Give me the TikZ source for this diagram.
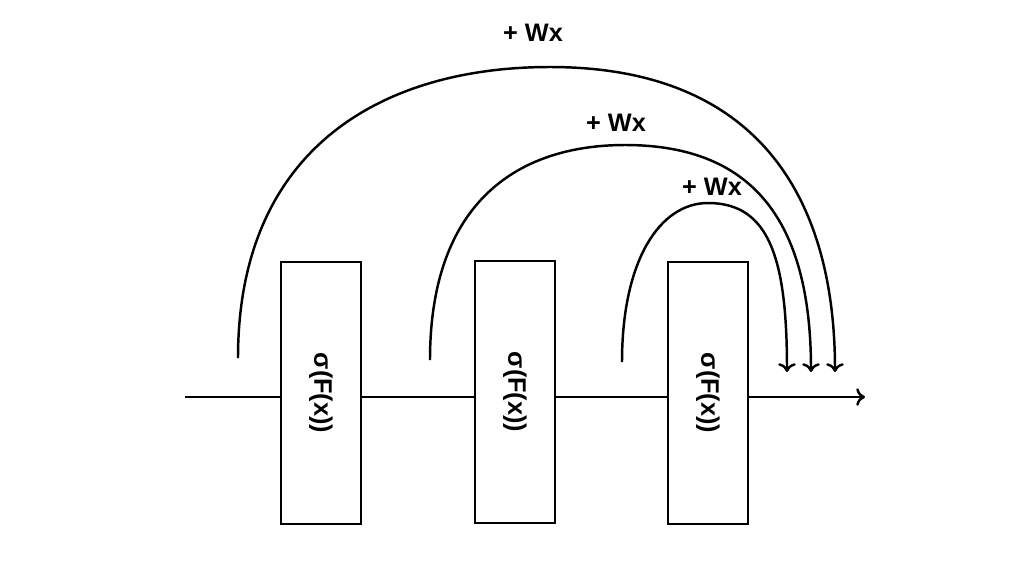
\documentclass[tikz,border=0pt]{standalone}
\usepackage{fontspec}
\setmainfont{Liberation Sans}
\usetikzlibrary{positioning,calc,arrows.meta}

\begin{document}
\begin{tikzpicture}[x=0.02cm,y=-0.02cm,line width=1.4pt,
	layer/.style={draw,minimum width=1.6cm,minimum height=5.24cm,inner sep=0pt},
	skip/.style={->,>={To[length=5pt,width=10pt]}},
	lbl/.style={font=\bfseries\Large}]
	\useasboundingbox (0,0) rectangle (1024,576);
	
	\coordinate (in)  at (185,397);
	\coordinate (out) at (865,397);
	\node[layer] (L1) at (321,393) {};
	\node[layer] (L2) at (515,392) {};
	\node[layer] (L3) at (708,393) {};
	\foreach \n in {L1,L2,L3}
		\node[lbl,rotate=-90] at (\n) {σ(F(x))};
	
	\draw (in) -- (L1.west |- in) (L1.east |- in) -- (L2.west |- in) (L2.east |- in) -- (L3.west |- in);
	\draw[skip] (L3.east |- out) -- (out);
	
	% skip connections
	\coordinate (s1) at (238,358); \coordinate (e1) at (835,372);
	\coordinate (s2) at (430,360); \coordinate (e2) at (811,372);
	\coordinate (s3) at (622,362); \coordinate (e3) at (787,372);
	\draw[skip] (s1) .. controls (238,150) and (380,67) .. (550,67)
		.. controls (760,67) and (835,200) .. (e1);
	\draw[skip] (s2) .. controls (430,200) and (520,145) .. (625,145)
		.. controls (760,145) and (811,230) .. (e2);
	\draw[skip] (s3) .. controls (622,260) and (660,203) .. (708,203)
		.. controls (770,203) and (787,260) .. (e3);
	
	\node[lbl] (w1) at (533,33) {+ Wx};
	\node[lbl] (w2) at (616,123) {+ Wx};
	\node[lbl] (w3) at (712,187) {+ Wx};
\end{tikzpicture}
\end{document}
